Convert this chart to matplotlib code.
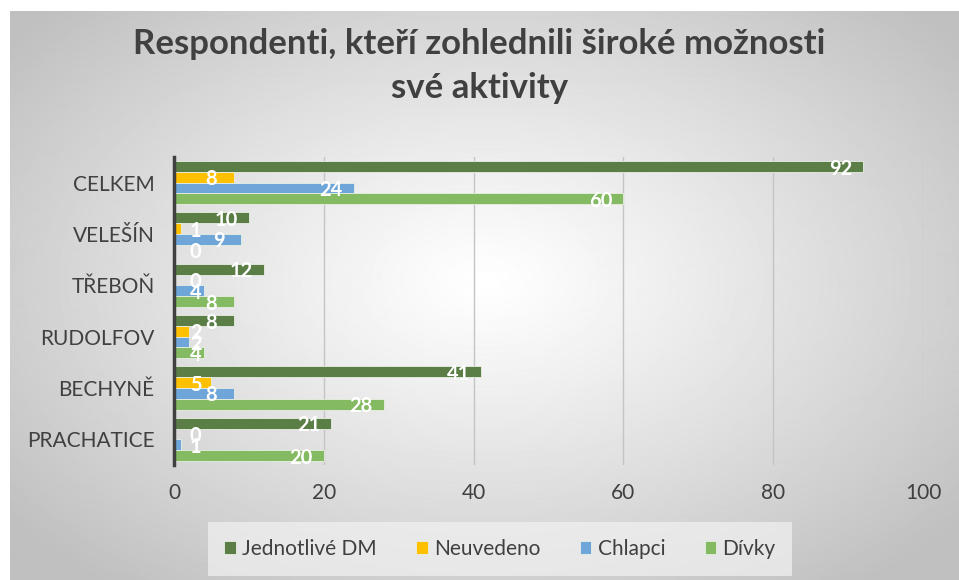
"""
Respondenti, kteri zohlednili siroke moznosti sve aktivity - horizontal grouped bars
"""

import matplotlib.pyplot as plt
import numpy as np

plt.rcParams['font.family'] = ['Lato', 'DejaVu Sans']

# data (bottom to top)
mista = ['PRACHATICE', 'BECHYNĚ', 'RUDOLFOV', 'TŘEBOŇ', 'VELEŠÍN', 'CELKEM']
jednotlive_dm = [21, 41, 8, 12, 10, 92]
neuvedeno = [0, 5, 2, 0, 1, 8]
chlapci = [1, 8, 2, 4, 9, 24]
divky = [20, 28, 4, 8, 0, 60]

series = [('Jednotlivé DM', jednotlive_dm, '#5b7e47'),
          ('Neuvedeno', neuvedeno, '#ffc000'),
          ('Chlapci', chlapci, '#6fa6da'),
          ('Dívky', divky, '#84ba62')]

fig = plt.figure(figsize=(9.59, 5.8), dpi=100)
fig.patch.set_facecolor('white')

# radial gradient background of the chart area
bg = fig.add_axes([10/959, 0, 1 - 10/959, 1 - 11/580], zorder=-10)
yy, xx = np.mgrid[0:570, 0:949]
d = np.sqrt(((xx - 475) / 470.0) ** 2 + ((yy - 270) / 300.0) ** 2)
g = 1 - 0.25 * np.clip(d / 1.3, 0, 1) ** 1.1
bg.imshow(g, cmap='gray', vmin=0, vmax=1, aspect='auto', interpolation='bilinear')
bg.axis('off')

ax = fig.add_axes([174/959, 1 - 465/580, (923 - 174)/959, (465 - 157)/580])
ax.patch.set_alpha(0)

y = np.arange(len(mista))
h = 0.21
offs = [1.5 * h, 0.5 * h, -0.5 * h, -1.5 * h]
for (name, vals, col), off in zip(series, offs):
    ax.barh(y + off, vals, height=h, color=col, edgecolor='#e8efe4', linewidth=0.6,
            label=name, zorder=3)
    for yi, v in zip(y, vals):
        xt = max(v - 3.0, 2.9)
        ax.text(xt, yi + off - 0.04, str(v), ha='center', va='center', color='white',
                fontsize=14.5, fontweight='bold', zorder=4)

ax.set_xlim(0, 100)
ax.set_ylim(-0.5, len(mista) - 0.5)
ax.set_xticks([0, 20, 40, 60, 80, 100])
ax.set_yticks(y)
ax.set_yticklabels(mista)
ax.tick_params(axis='both', length=0, labelsize=15, colors='#404040')
ax.tick_params(axis='x', pad=13)
ax.tick_params(axis='y', pad=14)
ax.xaxis.grid(True, color='#c4c4c4', linewidth=1, zorder=0)
for s in ['top', 'right', 'bottom']:
    ax.spines[s].set_visible(False)
ax.spines['left'].set_color('#404040')
ax.spines['left'].set_linewidth(2.5)
ax.spines['left'].set_zorder(5)

fig.text(0.5, 1 - 44/580, 'Respondenti, kteří zohlednili široké možnosti',
         ha='center', va='center', fontsize=25, fontweight='bold', color='#404040')
fig.text(0.5, 1 - 88/580, 'své aktivity',
         ha='center', va='center', fontsize=25, fontweight='bold', color='#404040')

leg = fig.legend(loc='center', bbox_to_anchor=(500/959, 1 - 549/580), ncol=4,
                 frameon=True, fontsize=15, handlelength=0.55, handleheight=0.55,
                 handletextpad=0.3, columnspacing=1.9, borderpad=0.5)
leg.get_frame().set_facecolor('#f2f2f2')
leg.get_frame().set_edgecolor('none')
leg.get_frame().set_alpha(0.7)
leg.get_frame().set_boxstyle('square', pad=0.3)
for t in leg.get_texts():
    t.set_color('#404040')

plt.savefig('out.png', dpi=100)
